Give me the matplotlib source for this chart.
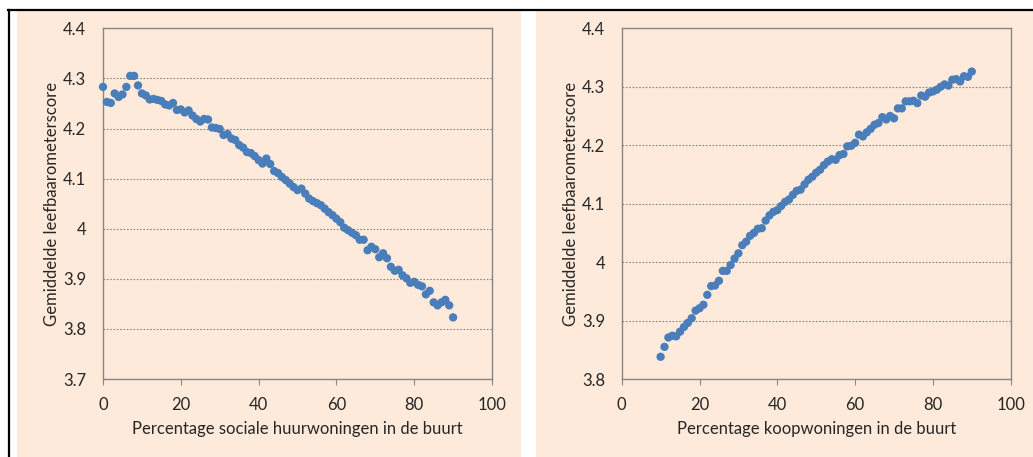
import matplotlib
matplotlib.use("Agg")
import matplotlib.pyplot as plt
from matplotlib.patches import Rectangle
from matplotlib.lines import Line2D

# ---- data ----
social_x = list(range(0, 91))
social_y = [4.283, 4.253, 4.251, 4.270, 4.263, 4.268, 4.283, 4.305, 4.305, 4.286,
            4.270, 4.266, 4.258, 4.259, 4.257, 4.255, 4.248, 4.246, 4.251, 4.237,
            4.238, 4.232, 4.236, 4.226, 4.219, 4.214, 4.219, 4.218, 4.202, 4.201,
            4.199, 4.187, 4.189, 4.180, 4.177, 4.167, 4.162, 4.153, 4.151, 4.145,
            4.137, 4.130, 4.140, 4.129, 4.115, 4.111, 4.103, 4.097, 4.090, 4.083,
            4.077, 4.080, 4.070, 4.060, 4.055, 4.051, 4.047, 4.040, 4.033, 4.027,
            4.020, 4.013, 4.002, 3.997, 3.992, 3.987, 3.978, 3.978, 3.957, 3.964,
            3.959, 3.943, 3.951, 3.941, 3.924, 3.916, 3.918, 3.907, 3.901, 3.892,
            3.894, 3.888, 3.885, 3.869, 3.876, 3.853, 3.847, 3.853, 3.858, 3.847,
            3.823]

koop_x = list(range(10, 91))
koop_y = [3.838, 3.855, 3.871, 3.874, 3.873, 3.881, 3.889, 3.896, 3.904, 3.917,
          3.921, 3.927, 3.944, 3.959, 3.960, 3.968, 3.985, 3.985, 3.995, 4.006,
          4.015, 4.029, 4.035, 4.045, 4.050, 4.057, 4.058, 4.071, 4.080, 4.086,
          4.089, 4.096, 4.103, 4.107, 4.115, 4.122, 4.124, 4.133, 4.141, 4.146,
          4.153, 4.158, 4.166, 4.172, 4.176, 4.175, 4.183, 4.185, 4.198, 4.199,
          4.204, 4.218, 4.215, 4.222, 4.228, 4.235, 4.238, 4.248, 4.244, 4.250,
          4.246, 4.263, 4.263, 4.275, 4.275, 4.276, 4.272, 4.285, 4.283, 4.290,
          4.292, 4.295, 4.300, 4.304, 4.302, 4.312, 4.313, 4.309, 4.318, 4.317,
          4.326]

x_ticks = [0, 20, 40, 60, 80, 100]
left_yticks = [3.7, 3.8, 3.9, 4.0, 4.1, 4.2, 4.3, 4.4]
left_ylabels = ["3.7", "3.8", "3.9", "4", "4.1", "4.2", "4.3", "4.4"]
right_yticks = [3.8, 3.9, 4.0, 4.1, 4.2, 4.3, 4.4]
right_ylabels = ["3.8", "3.9", "4", "4.1", "4.2", "4.3", "4.4"]

ylabel_text = "Gemiddelde leefbaarometerscore"
left_xlabel = "Percentage sociale huurwoningen in de buurt"
right_xlabel = "Percentage koopwoningen in de buurt"

# ---- style ----
W, H = 1033, 457
plt.rcParams['font.family'] = ['Lato', 'DejaVu Sans']
BEIGE = '#FDEADA'
BLUE = '#4A7EBB'
GRAY = '#868686'
TEXT = '#262626'

fig = plt.figure(figsize=(W / 100, H / 100), dpi=100)
fig.patch.set_facecolor('white')

def px_rect(x0, y0, x1, y1, **kw):
    # pixel coords from top-left
    return Rectangle((x0 / W, 1 - y1 / H), (x1 - x0) / W, (y1 - y0) / H,
                     transform=fig.transFigure, **kw)

fig.patches.append(px_rect(17, 11, 521, 457, facecolor=BEIGE, edgecolor='none', zorder=-5))
fig.patches.append(px_rect(536, 11, 1033, 457, facecolor=BEIGE, edgecolor='none', zorder=-5))
fig.lines.append(Line2D([8 / W, 1.0], [1 - 9.5 / H, 1 - 9.5 / H], transform=fig.transFigure,
                        color='black', linewidth=1.6, zorder=-4))
fig.lines.append(Line2D([8.5 / W, 8.5 / W], [0, 1 - 9.5 / H], transform=fig.transFigure,
                        color='black', linewidth=1.6, zorder=-4))

def make_axes(left_px, xs, ys, yticks, ylabels, ymin, ymax, xlabel):
    ax = fig.add_axes([left_px / W, (H - 379) / H, 389 / W, (379 - 28.3) / H])
    ax.set_facecolor('none')
    ax.scatter(xs, ys, s=36, color=BLUE, edgecolors='none', zorder=3, clip_on=False)
    ax.set_xlim(0, 100)
    ax.set_ylim(ymin, ymax)
    ax.set_xticks(x_ticks)
    ax.set_yticks(yticks)
    ax.set_yticklabels(ylabels)
    for sp in ax.spines.values():
        sp.set_color(GRAY)
        sp.set_linewidth(1.0)
    ax.yaxis.grid(True, linestyle=(0, (1.5, 1.5)), color=GRAY, linewidth=0.8)
    ax.set_axisbelow(True)
    ax.tick_params(axis='x', direction='out', length=4, width=0.8, color=GRAY,
                   pad=9, labelsize=12, labelcolor=TEXT)
    ax.tick_params(axis='y', length=0, pad=12, labelsize=12, labelcolor=TEXT)
    ax.set_xlabel(xlabel, fontsize=12, color=TEXT, labelpad=6)
    ax.set_ylabel(ylabel_text, fontsize=12, color=TEXT, labelpad=2)
    return ax

make_axes(103, social_x, social_y, left_yticks, left_ylabels, 3.7, 4.4, left_xlabel)
make_axes(621.7, koop_x, koop_y, right_yticks, right_ylabels, 3.8, 4.4, right_xlabel)

fig.savefig('out.png', dpi=100, facecolor=fig.get_facecolor())
